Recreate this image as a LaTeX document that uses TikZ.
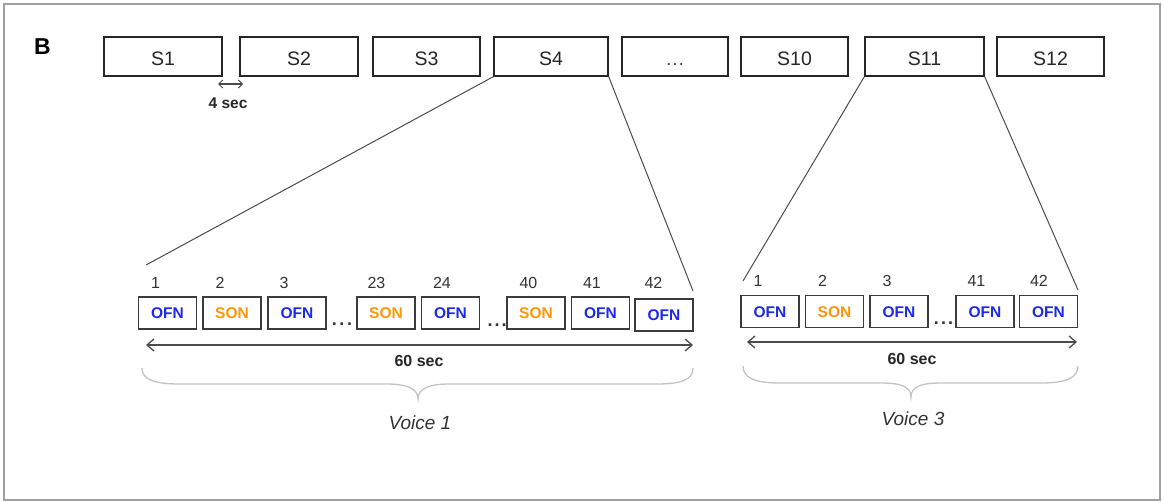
\documentclass[tikz,border=0pt]{standalone}
\usepackage{fontspec}
\setmainfont{Liberation Sans}
\usetikzlibrary{arrows.meta}
\definecolor{ofnblue}{RGB}{28,40,240}
\definecolor{sonorange}{RGB}{255,150,10}
\definecolor{framegray}{RGB}{160,160,160}
\definecolor{boxline}{RGB}{60,60,60}
\definecolor{bracegray}{RGB}{195,195,195}
\begin{document}
\begin{tikzpicture}[x=1pt,y=-1pt,
  topbox/.style={draw=black!85, line width=1.4pt, fill=white, inner sep=0pt, minimum height=39pt, text height=18pt, text depth=0pt, font=\fontsize{19.5}{22}\selectfont, text=black!85},
  cellbox/.style={draw=boxline, line width=1.4pt, fill=white, inner sep=0pt, minimum width=58pt, minimum height=32pt, text height=11.5pt, text depth=0pt, font=\bfseries\fontsize{15.5}{18}\selectfont},
  ofn/.style={cellbox, text=ofnblue},
  son/.style={cellbox, text=sonorange},
  numlbl/.style={anchor=base west, inner sep=0pt, font=\fontsize{16}{18}\selectfont, text=black!80},
  dotslbl/.style={anchor=base, inner sep=0pt, font=\bfseries\fontsize{18}{20}\selectfont, text=black!80},
  zoomline/.style={draw=black!70, line width=1pt},
  spanarrow/.style={draw=black!70, line width=1.3pt, {Straight Barb[length=7pt,width=12pt]}-{Straight Barb[length=7pt,width=12pt]}},
  gaparrow/.style={draw=black!70, line width=1pt, {Straight Barb[length=4pt,width=8pt]}-{Straight Barb[length=4pt,width=8pt]}},
  secl/.style={font=\bfseries\fontsize{16}{18}\selectfont, text=black!85, inner sep=0pt},
  voicel/.style={font=\itshape\fontsize{19}{22}\selectfont, text=black!80, inner sep=0pt},
  bracel/.style={draw=bracegray, line width=1.3pt},
]
\useasboundingbox (0,0) rectangle (1162,503);
\draw[framegray, line width=1.2pt] (4,4) rectangle (1160,500);

% panel letter
\node[anchor=base west, inner sep=0pt, font=\bfseries\fontsize{23}{26}\selectfont] (B) at (34,55) {B};

% top row of sessions
\node[topbox, minimum width=118pt] (s1)  at (163,56.5)   {S1};
\node[topbox, minimum width=118pt] (s2)  at (299,56.5)   {S2};
\node[topbox, minimum width=107pt] (s3)  at (426.5,56.5) {S3};
\node[topbox, minimum width=114pt] (s4)  at (551,56.5)   {S4};
\node[topbox, minimum width=106pt] (sd)  at (675,56.5)   {\color{black!70}…};
\node[topbox, minimum width=107pt] (s10) at (794.5,56.5) {S10};
\node[topbox, minimum width=119pt] (s11) at (924.5,56.5) {S11};
\node[topbox, minimum width=107pt] (s12) at (1050.5,56.5) {S12};

% 4 sec gap
\coordinate (g1) at (218,84);
\coordinate (g2) at (243,84);
\draw[gaparrow] (g1) -- (g2);
\node[secl, font=\bfseries\fontsize{15.5}{18}\selectfont] (gap) at (228,103) {4 sec};

% Voice 1 row
\node[ofn] (b1) at (167.5,313) {OFN};
\node[son] (b2) at (232,313)   {SON};
\node[ofn] (b3) at (297,313)   {OFN};
\node[son] (b4) at (386,313)   {SON};
\node[ofn] (b5) at (450.5,313) {OFN};
\node[son] (b6) at (536,313)   {SON};
\node[ofn] (b7) at (600.5,313) {OFN};
\node[ofn] (b8) at (664,315)   {OFN};

\node[numlbl] (n1)  at ([xshift=13pt,yshift=8pt]b1.north west) {1};
\node[numlbl] (n2)  at ([xshift=13pt,yshift=8pt]b2.north west) {2};
\node[numlbl] (n3)  at ([xshift=12pt,yshift=8pt]b3.north west) {3};
\node[numlbl] (n23) at ([xshift=11pt,yshift=8pt]b4.north west) {23};
\node[numlbl] (n24) at ([xshift=12pt,yshift=8pt]b5.north west) {24};
\node[numlbl] (n40) at ([xshift=13pt,yshift=8pt]b6.north west) {40};
\node[numlbl] (n41) at ([xshift=12pt,yshift=8pt]b7.north west) {41};
\node[numlbl] (n42) at ([xshift=10pt,yshift=10pt]b8.north west) {42};

\node[dotslbl] (d1) at (342,325) {.\kern2.6pt.\kern2.6pt.};
\node[dotslbl] (d2) at (497,326) {.\kern2pt.\kern2pt.};

\coordinate (a1l) at (146,345);
\coordinate (a1r) at (693,345);
\draw[spanarrow] (a1l) -- (a1r);
\node[secl] (t1) at (419,361) {60 sec};

\draw[bracel] (142,368) .. controls (142,380) and (155,384) .. (180,384) -- (386,384)
  .. controls (406,384) and (418,388) .. (418,399)
  .. controls (418,388) and (430,384) .. (450,384) -- (656,384)
  .. controls (681,384) and (693,380) .. (693,368);
\node[voicel] (v1) at (420,423) {Voice 1};

% Voice 3 row
\node[ofn] (c1) at (770,311.5)    {OFN};
\node[son] (c2) at (834.5,311.5)  {SON};
\node[ofn] (c3) at (899,311.5)    {OFN};
\node[ofn] (c4) at (985,311.5)    {OFN};
\node[ofn] (c5) at (1048.5,311.5) {OFN};

\node[numlbl] (m1)  at ([xshift=13pt,yshift=8pt]c1.north west) {1};
\node[numlbl] (m2)  at ([xshift=13pt,yshift=8pt]c2.north west) {2};
\node[numlbl] (m3)  at ([xshift=13pt,yshift=8pt]c3.north west) {3};
\node[numlbl] (m41) at ([xshift=12pt,yshift=8pt]c4.north west) {41};
\node[numlbl] (m42) at ([xshift=11pt,yshift=8pt]c5.north west) {42};

\node[dotslbl] (d3) at (943.5,324) {.\kern2.2pt.\kern2.2pt.};

\coordinate (a3l) at (747,342);
\coordinate (a3r) at (1077,342);
\draw[spanarrow] (a3l) -- (a3r);
\node[secl] (t3) at (912,359) {60 sec};

\draw[bracel] (743,366) .. controls (743,378) and (755,383) .. (780,383) -- (880,383)
  .. controls (900,383) and (911,386) .. (911,397)
  .. controls (911,386) and (922,383) .. (942,383) -- (1041,383)
  .. controls (1066,383) and (1078,378) .. (1078,366);
\node[voicel] (v3) at (913,419) {Voice 3};

% zoom lines
\coordinate (z1l) at (146,265);
\coordinate (z1r) at (693,291);
\coordinate (z3l) at (743,281);
\coordinate (z3r) at (1078,290);
\draw[zoomline] (s4.south west) -- (z1l);
\draw[zoomline] (s4.south east) -- (z1r);
\draw[zoomline] (s11.south west) -- (z3l);
\draw[zoomline] (s11.south east) -- (z3r);
\end{tikzpicture}
\end{document}
